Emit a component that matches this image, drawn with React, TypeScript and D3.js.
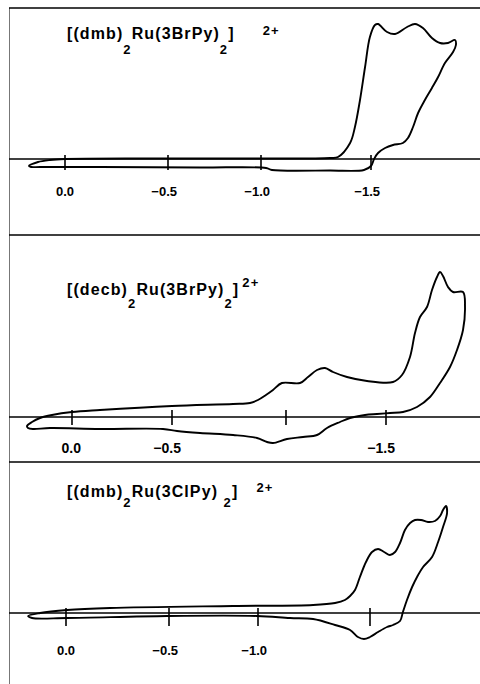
import React from "react";
import * as d3 from "d3";

// potentials (V) for the tick marks, shared by the three voltammograms
const potentialTicks = [0, -0.5, -1.0, -1.5];
const tickLabelsDmbBr = ["0.0", "−0.5", "−1.0", "−1.5"];
const tickLabelsDecbBr = ["0.0", "−0.5", "", "−1.5"];
const tickLabelsDmbCl = ["0.0", "−0.5", "−1.0", ""];

// titles: [text, role]
const titleDmbBr = [["[(dmb)", "base"], ["2", "sub"], ["Ru(3BrPy)", "base"], ["2", "sub"], ["]", "base"], ["2+", "sup"]];
const titleDecbBr = [["[(decb)", "base"], ["2", "sub"], ["Ru(3BrPy)", "base"], ["2", "sub"], ["]", "base"], ["2+", "sup"]];
const titleDmbCl = [["[(dmb)", "base"], ["2", "sub"], ["Ru(3ClPy) ", "base"], ["2", "sub"], ["]", "base"], ["2+", "sup"]];

// cyclic voltammograms: [E (V), i (arb. units, cathodic up)], traced as a closed loop
const curveDmbBr = [
  [0.175, -0.7], [0.131, -0.3], [0.073, -0.1], [0, 0], [-0.413, 0.05], [-0.941, 0.05], [-1.314, 0.1],
  [-1.35, 0.2], [-1.405, 1.6], [-1.427, 3.2], [-1.45, 5.9], [-1.473, 9.2], [-1.495, 12.2], [-1.518, 13.4],
  [-1.532, 13.5], [-1.573, 12.7], [-1.609, 12.5], [-1.664, 13.2], [-1.7, 13.5], [-1.736, 13.1], [-1.777, 12.1],
  [-1.814, 11.6], [-1.85, 11.6], [-1.882, 11.9], [-1.886, 11.4], [-1.873, 10.7], [-1.836, 9.6], [-1.805, 8.2],
  [-1.777, 7.1], [-1.745, 5.9], [-1.714, 4.6], [-1.691, 3.2], [-1.668, 2.1], [-1.645, 1.6], [-1.6, 1.4],
  [-1.564, 1.1], [-1.532, 0.6], [-1.514, 0], [-1.5, -0.7], [-1.468, -1.1], [-1.314, -1.15], [-1.05, -1.1],
  [-1.023, -0.9], [-0.672, -0.85], [-0.17, -0.8], [0.121, -0.8], [0.165, -0.8],
];

const curveDecbBr = [
  [0.225, -0.9], [0.2, -0.5], [0.16, -0.1], [0.1, 0.2], [0, 0.5], [-0.14, 0.7], [-0.5, 1.1], [-0.768, 1.3],
  [-0.842, 1.4], [-0.877, 1.7], [-0.912, 2.2], [-0.943, 2.7], [-0.982, 3.4], [-1.07, 3.4], [-1.11, 4.0],
  [-1.155, 4.7], [-1.195, 4.9], [-1.235, 4.5], [-1.305, 4.0], [-1.405, 3.6], [-1.535, 3.5], [-1.58, 4.2],
  [-1.62, 6.0], [-1.645, 8.4], [-1.67, 10.0], [-1.705, 11.0], [-1.73, 12.7], [-1.755, 14.0], [-1.77, 14.5],
  [-1.785, 14.1], [-1.81, 13.0], [-1.835, 12.5], [-1.885, 12.5], [-1.895, 11.0], [-1.885, 8.7], [-1.855, 6.7],
  [-1.82, 5.0], [-1.77, 3.4], [-1.72, 2.0], [-1.655, 1.0], [-1.585, 0.5], [-1.52, 0.4], [-1.455, 0.3],
  [-1.395, 0.2], [-1.32, -0.1], [-1.27, -0.5], [-1.205, -1.1], [-1.155, -1.8], [-1.085, -2.0], [-1.005, -2.2],
  [-0.943, -2.6], [-0.917, -2.5], [-0.873, -2.1], [-0.768, -1.8], [-0.623, -1.6], [-0.522, -1.4], [-0.455, -1.2],
  [-0.14, -1.2], [0.11, -1.1], [0.195, -1.2], [0.22, -1.1],
];

const curveDmbCl = [
  [0.184, -0.3], [0.126, 0], [-0.005, 0.3], [-0.214, 0.5], [-0.86, 0.7], [-1.246, 0.8], [-1.344, 1.0],
  [-1.388, 1.3], [-1.411, 1.7], [-1.433, 2.3], [-1.455, 3.6], [-1.482, 5.1], [-1.509, 6.1], [-1.536, 6.4],
  [-1.563, 6.1], [-1.589, 5.8], [-1.612, 6.1], [-1.634, 7.0], [-1.656, 8.3], [-1.679, 9.0], [-1.701, 9.3],
  [-1.728, 9.3], [-1.759, 9.1], [-1.79, 9.2], [-1.813, 9.7], [-1.826, 10.3], [-1.839, 10.7], [-1.844, 10.0],
  [-1.826, 8.6], [-1.804, 7.1], [-1.777, 5.6], [-1.737, 4.6], [-1.71, 3.6], [-1.688, 2.6], [-1.665, 1.3],
  [-1.647, 0.1], [-1.634, -0.8], [-1.603, -1.2], [-1.576, -1.4], [-1.536, -1.9], [-1.5, -2.4], [-1.473, -2.6],
  [-1.446, -2.4], [-1.411, -1.7], [-1.344, -1.2], [-1.246, -0.6], [-1.143, -0.5], [-0.994, -0.3], [-0.49, -0.3],
  [-0.005, -0.5], [0.165, -0.5],
];

const W = 480;
const H = 684;
const LEFT = 9;
const FONT = "Liberation Sans, Arial, sans-serif";

// layout of each stacked panel
const panels = [
  {
    top: 8, axisY: 159, tickX: [65, 168, 261, 371], tickUp: 4, tickDown: 11,
    labelY: 196, labelSize: 13, titleY: 39, subOff: 15, supOff: -4, supDx: 28,
    title: titleDmbBr, labels: tickLabelsDmbBr, curve: curveDmbBr,
  },
  {
    top: 235, axisY: 417, tickX: [72, 172, 286, 386], tickUp: 7, tickDown: 8,
    labelY: 453, labelSize: 14, titleY: 295, subOff: 13, supOff: -8, supDx: 3,
    title: titleDecbBr, labels: tickLabelsDecbBr, curve: curveDecbBr,
  },
  {
    top: 462, axisY: 613, tickX: [66, 169, 258, 370], tickUp: 5, tickDown: 13,
    labelY: 655, labelSize: 13, titleY: 497, subOff: 10, supOff: -5, supDx: 18,
    title: titleDmbCl, labels: tickLabelsDmbCl, curve: curveDmbCl,
  },
];

function Panel({ p }) {
  const x = d3.scaleLinear().domain(potentialTicks).range(p.tickX);
  const y = d3.scaleLinear().domain([0, 10]).range([p.axisY, p.axisY - 100]);
  const line = d3
    .line()
    .x((d) => x(d[0]))
    .y((d) => y(d[1]))
    .curve(d3.curveCatmullRomClosed.alpha(0.5));

  return (
    <g>
      <line x1={LEFT} x2={W} y1={p.top} y2={p.top} stroke="#000" strokeWidth={1.6} />
      <line x1={LEFT} x2={W} y1={y(0)} y2={y(0)} stroke="#000" strokeWidth={1.6} />
      {potentialTicks.map((t) => (
        <line
          key={t}
          x1={x(t)}
          x2={x(t)}
          y1={y(0) - p.tickUp}
          y2={y(0) + p.tickDown}
          stroke="#000"
          strokeWidth={1.6}
        />
      ))}
      <path d={line(p.curve)} fill="none" stroke="#000" strokeWidth={1.9} strokeLinejoin="round" />
      {potentialTicks.map((t, i) =>
        p.labels[i] ? (
          <text
            key={"l" + t}
            x={x(t) + 9}
            y={p.labelY}
            textAnchor="end"
            fontFamily={FONT}
            fontWeight="bold"
            fontSize={p.labelSize}
          >
            {p.labels[i]}
          </text>
        ) : null
      )}
      <text x={67} y={p.titleY} fontFamily={FONT} fontWeight="bold" fontSize={16} letterSpacing={1.1}>
        {p.title.map(([s, role], i) => (
          <tspan
            key={i}
            y={role === "sub" ? p.titleY + p.subOff : role === "sup" ? p.titleY + p.supOff : p.titleY}
            dx={role === "sup" ? p.supDx : 0}
            fontSize={role === "base" ? 16 : 13}
          >
            {s}
          </tspan>
        ))}
      </text>
    </g>
  );
}

export default function App() {
  return (
    <svg
      width={W}
      height={H}
      viewBox={`0 0 ${W} ${H}`}
      style={{ position: "absolute", left: 0, top: 0, background: "#fff" }}
    >
      <rect width={W} height={H} fill="#fff" />
      <line x1={LEFT + 0.5} x2={LEFT + 0.5} y1={8} y2={H} stroke="#777" strokeWidth={1} />
      {panels.map((p, i) => (
        <Panel key={i} p={p} />
      ))}
    </svg>
  );
}
